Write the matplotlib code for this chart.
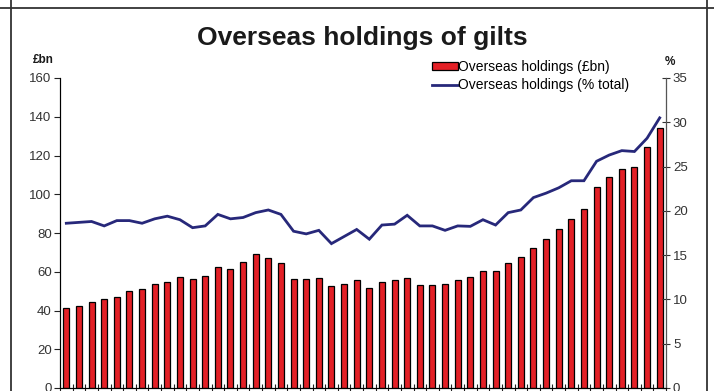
import matplotlib.pyplot as plt
from matplotlib.lines import Line2D
import numpy as np

plt.rcParams.update({
    'font.family': ['Liberation Sans', 'DejaVu Sans'],
    'font.size': 9,
})

# Overseas holdings of gilts, £bn (bars) and share of total, % (line)
holdings_bn = [41.2, 42.5, 44.3, 46.0, 47.2, 49.9, 51.3, 53.5, 54.9, 57.1,
               56.1, 58.0, 62.3, 61.2, 65.0, 69.0, 66.9, 64.5, 56.1, 56.3,
               56.6, 52.8, 53.5, 55.9, 51.5, 54.7, 55.6, 56.6, 53.0, 53.3,
               53.5, 55.6, 57.5, 60.5, 60.2, 64.7, 67.8, 72.2, 76.8, 82.3,
               87.0, 92.6, 103.6, 109.1, 113.2, 114.2, 124.5, 134.1]
holdings_pct = [18.6, 18.7, 18.8, 18.3, 18.9, 18.9, 18.6, 19.1, 19.4, 19.0,
                18.1, 18.3, 19.6, 19.1, 19.25, 19.8, 20.1, 19.6, 17.7, 17.4,
                17.8, 16.3, 17.1, 17.9, 16.8, 18.4, 18.5, 19.5, 18.3, 18.3,
                17.8, 18.3, 18.25, 19.0, 18.4, 19.8, 20.1, 21.5, 22.0, 22.6,
                23.4, 23.4, 25.6, 26.3, 26.8, 26.7, 28.2, 30.5]

left_ticks = [0, 20, 40, 60, 80, 100, 120, 140, 160]
right_ticks = [0, 5, 10, 15, 20, 25, 30, 35]

x = np.arange(len(holdings_bn))

fig = plt.figure(figsize=(7.14, 3.91), dpi=100)
ax = fig.add_axes([60 / 714, 1 - 388 / 391, 606 / 714, 310 / 391])
ax2 = ax.twinx()

bars = ax.bar(x, holdings_bn, width=0.47, color='#e32026',
              edgecolor='black', linewidth=0.9, zorder=2)
line, = ax2.plot(x, holdings_pct, color='#27287a', linewidth=2.0,
                 solid_joinstyle='miter', zorder=3)

ax.set_xlim(-0.5, len(x) - 0.5)
ax.set_ylim(0, 160)
ax2.set_ylim(0, 35)
ax.set_yticks(left_ticks)
ax2.set_yticks(right_ticks)
ax.set_xticks(np.arange(-0.5, len(x), 1.0))
ax.set_xticklabels([])

for a in (ax, ax2):
    a.spines['top'].set_visible(False)
    a.patch.set_visible(False)
ax.spines['left'].set_color('#222222')
ax.spines['bottom'].set_color('#222222')
ax2.spines['right'].set_color('#555555')
ax.tick_params(axis='y', direction='out', length=4, width=0.8,
               colors='#222222', labelcolor='#333333', labelsize=9.5, pad=2)
ax2.tick_params(axis='y', direction='inout', length=6, width=0.8,
                colors='#333333', labelcolor='#333333', labelsize=9.5, pad=2)
ax.tick_params(axis='x', direction='inout', length=6, width=0.8,
               colors='#222222')

fig.text(362 / 714, 1 - 38 / 391, 'Overseas holdings of gilts',
         ha='center', va='center', fontsize=19, fontweight='bold',
         color='#1a1a1a')
fig.text(43 / 714, 1 - 60 / 391, '£bn', ha='center', va='center',
         fontsize=8.5, fontweight='bold', color='#1a1a1a')
fig.text(670 / 714, 1 - 62 / 391, '%', ha='center', va='center',
         fontsize=8.5, fontweight='bold', color='#1a1a1a')

fig.legend([bars, line],
           ['Overseas holdings (£bn)', 'Overseas holdings (% total)'],
           loc='upper left', bbox_to_anchor=(432 / 714, 1 - 60 / 391),
           frameon=False, fontsize=10, handlelength=1.85, handleheight=0.55,
           handletextpad=0.05, labelspacing=0.3, borderpad=0,
           borderaxespad=0)

# outer frame around the chart panel
frame_kw = dict(color='#333333', linewidth=1.3, transform=fig.transFigure)
fig.add_artist(Line2D([0, 1], [1 - 7.5 / 391] * 2, **frame_kw))
fig.add_artist(Line2D([10.5 / 714] * 2, [0, 1], **frame_kw))
fig.add_artist(Line2D([706.5 / 714] * 2, [0, 1], **frame_kw))

fig.savefig('out.png', dpi=100, facecolor='white')
